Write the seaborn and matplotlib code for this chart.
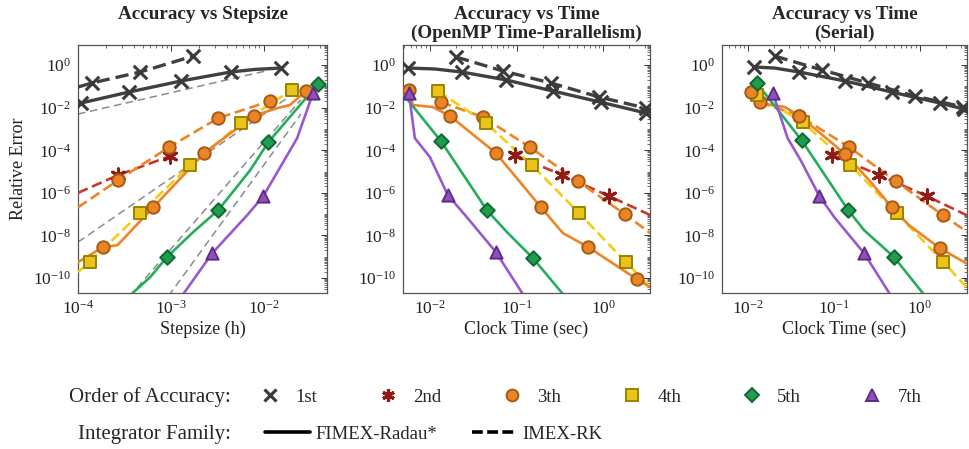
import numpy as np
import pandas as pd
import seaborn as sns
import matplotlib
matplotlib.use("Agg")
import matplotlib.pyplot as plt
from matplotlib.lines import Line2D
from matplotlib.ticker import LogLocator, FixedLocator, NullFormatter

sns.set_theme(style="white")
plt.rcParams["font.family"] = ["Liberation Serif", "DejaVu Serif"]
plt.rcParams["mathtext.fontset"] = "stix"

# ---------------- text ----------------
titles = ["Accuracy vs Stepsize",
          "Accuracy vs Time\n(OpenMP Time-Parallelism)",
          "Accuracy vs Time\n(Serial)"]
xlabels = ["Stepsize (h)", "Clock Time (sec)", "Clock Time (sec)"]
ylabel = "Relative Error"
order_labels = ["1st", "2nd", "3th", "4th", "5th", "7th"]
family_labels = ["FIMEX-Radau*", "IMEX-RK"]
legend_row_labels = ["Order of Accuracy:", "Integrator Family:"]

# ---------------- panel 1 : error vs stepsize ----------------
step_o1_imex_x = [1.0e-4, 1.41e-4, 4.65e-4, 1.74e-3]
step_o1_imex_y = [0.093, 0.143, 0.468, 2.63]
step_o1_imex_m = [1, 2, 3]
step_o1_fimex_x = [1.08e-4, 3.54e-4, 1.28e-3, 4.4e-3, 8.0e-3, 0.0152]
step_o1_fimex_y = [0.0165, 0.054, 0.177, 0.47, 0.62, 0.72]
step_o1_fimex_m = [0, 1, 2, 3, 5]
step_o2_imex_x = [1.0e-4, 2.72e-4, 9.9e-4]
step_o2_imex_y = [1.0e-6, 6.9e-6, 5.4e-5]
step_o2_imex_m = [1, 2]
step_o3_fimex_x = [1.0e-4, 1.88e-4, 2.66e-4, 6.46e-4, 2.29e-3, 7.76e-3, 0.0140, 0.0191, 0.0286]
step_o3_fimex_y = [5.6e-10, 2.9e-9, 3.5e-9, 2.1e-7, 7.4e-5, 4.1e-3, 9.5e-3, 0.0132, 0.060]
step_o3_fimex_m = [1, 3, 4, 5, 8]
step_o3_imex_x = [1.0e-4, 2.72e-4, 9.6e-4, 3.24e-3, 0.0117]
step_o3_imex_y = [2.1e-7, 4.0e-6, 1.41e-4, 3.24e-3, 0.0204]
step_o3_imex_m = [1, 2, 3, 4]
step_o4_imex_x = [1.0e-4, 1.33e-4, 4.68e-4, 1.62e-3, 5.75e-3, 0.020]
step_o4_imex_y = [1.9e-10, 5.6e-10, 1.12e-7, 2.04e-5, 1.9e-3, 0.0676]
step_o4_imex_m = [1, 2, 3, 4, 5]
step_o5_fimex_x = [3.16e-4, 6.0e-4, 9.1e-4, 1.74e-3, 3.24e-3, 7.16e-3, 0.0112, 0.0385]
step_o5_fimex_y = [8.9e-12, 1.12e-10, 9.8e-10, 1.45e-8, 1.55e-7, 1.17e-5, 2.4e-4, 0.129]
step_o5_fimex_m = [2, 4, 6, 7]
step_o7_fimex_x = [1.12e-3, 1.36e-3, 2.79e-3, 6.65e-3, 9.9e-3, 0.0229, 0.034]
step_o7_fimex_y = [5.6e-12, 1.78e-11, 1.48e-9, 9.1e-8, 7.1e-7, 3.7e-4, 0.049]
step_o7_fimex_m = [2, 4, 6]
# reference slopes (gray dashed guides)
step_ref1_x = [1.0e-4, 0.011]
step_ref1_y = [5.0e-3, 0.55]
step_ref3_x = [1.0e-4, 0.0226]
step_ref3_y = [4.9e-9, 0.0566]
step_ref5_x = [3.55e-4, 0.0251]
step_ref5_y = [1.3e-11, 0.0234]
step_ref6_x = [7.9e-4, 0.0251]
step_ref6_y = [5.0e-12, 5.0e-3]

# ---------------- panel 2 : OpenMP time ----------------
omp_o1_fimex_x = [5.57e-3, 0.0115, 0.0234, 0.0753, 0.263, 0.933, 3.09]
omp_o1_fimex_y = [0.724, 0.65, 0.468, 0.20, 0.060, 0.018, 5.6e-3]
omp_o1_fimex_m = [0, 2, 3, 4, 5, 6]
omp_o1_imex_x = [0.020, 0.0695, 0.249, 0.891, 3.09]
omp_o1_imex_y = [2.38, 0.525, 0.143, 0.0316, 9.5e-3]
omp_o1_imex_m = [0, 1, 2, 3, 4]
omp_o2_imex_x = [0.0955, 0.333, 1.16, 3.47]
omp_o2_imex_y = [5.9e-5, 6.9e-6, 7.1e-7, 9.1e-8]
omp_o2_imex_m = [0, 1, 2]
omp_o3_fimex_x = [5.73e-3, 6.37e-3, 0.0108, 0.0170, 0.0577, 0.191, 0.342, 0.664, 2.44, 3.47]
omp_o3_fimex_y = [0.0676, 0.0132, 0.0107, 4.1e-3, 7.4e-5, 2.1e-7, 1.29e-8, 2.9e-9, 8.9e-11, 3.8e-11]
omp_o3_fimex_m = [0, 3, 4, 5, 7, 8]
omp_o3_imex_x = [0.0134, 0.0408, 0.142, 0.509, 1.77, 3.47]
omp_o3_imex_y = [0.0182, 3.6e-3, 1.41e-4, 3.5e-6, 1.0e-7, 1.29e-8]
omp_o3_imex_m = [0, 1, 2, 3, 4]
omp_o4_imex_x = [0.0124, 0.0443, 0.150, 0.524, 1.82, 3.47]
omp_o4_imex_y = [0.060, 1.9e-3, 2.04e-5, 1.12e-7, 5.6e-10, 3.8e-11]
omp_o4_imex_m = [0, 1, 2, 3, 4]
omp_o5_fimex_x = [4.9e-3, 0.0134, 0.0454, 0.0773, 0.154, 0.342, 0.40]
omp_o5_fimex_y = [0.0437, 2.7e-4, 1.55e-7, 1.45e-8, 8.7e-10, 1.78e-11, 7.9e-12]
omp_o5_fimex_m = [1, 2, 4]
omp_o7_fimex_x = [5.73e-3, 6.71e-3, 0.010, 0.0161, 0.0267, 0.0577, 0.118, 0.14]
omp_o7_fimex_y = [0.049, 3.7e-4, 4.8e-5, 7.9e-7, 7.2e-8, 1.66e-9, 1.78e-11, 5.6e-12]
omp_o7_fimex_m = [0, 3, 5]

# ---------------- panel 3 : serial time ----------------
ser_o1_fimex_x = [0.01175, 0.0205, 0.0398, 0.136, 0.474, 1.70, 3.3]
ser_o1_fimex_y = [0.81, 0.72, 0.468, 0.178, 0.0537, 0.0166, 8.5e-3]
ser_o1_fimex_m = [0, 2, 3, 4, 5, 6]
ser_o1_imex_x = [0.0205, 0.0736, 0.251, 0.875, 3.23]
ser_o1_imex_y = [2.63, 0.582, 0.143, 0.035, 0.0107]
ser_o1_imex_m = [0, 1, 2, 3, 4]
ser_o2_imex_x = [0.0962, 0.336, 1.205, 3.49]
ser_o2_imex_y = [5.9e-5, 6.9e-6, 7.1e-7, 9.1e-8]
ser_o2_imex_m = [0, 1, 2]
ser_o3_fimex_x = [0.01084, 0.0158, 0.0269, 0.0398, 0.136, 0.257, 0.474, 0.746, 1.70, 3.59]
ser_o3_fimex_y = [0.0537, 0.0148, 0.0107, 4.1e-3, 6.6e-5, 4.0e-6, 2.1e-7, 3.1e-8, 2.6e-9, 4.6e-10]
ser_o3_fimex_m = [0, 3, 4, 6, 8]
ser_o3_imex_x = [0.0138, 0.0398, 0.151, 0.528, 1.85, 3.59]
ser_o3_imex_y = [0.0182, 4.1e-3, 1.41e-4, 3.5e-6, 9.1e-8, 1.45e-8]
ser_o3_imex_m = [0, 1, 2, 3, 4]
ser_o4_imex_x = [0.0127, 0.0433, 0.155, 0.542, 1.89, 3.49]
ser_o4_imex_y = [0.039, 2.1e-3, 2.04e-5, 1.12e-7, 5.6e-10, 3.8e-11]
ser_o4_imex_m = [0, 1, 2, 3, 4]
ser_o5_fimex_x = [0.0127, 0.0421, 0.147, 0.225, 0.501, 1.11, 1.3]
ser_o5_fimex_y = [0.143, 3.0e-4, 1.55e-7, 1.78e-8, 9.8e-10, 1.78e-11, 6e-12]
ser_o5_fimex_m = [0, 1, 2, 4]
ser_o7_fimex_x = [0.0195, 0.029, 0.041, 0.0679, 0.1014, 0.225, 0.45, 0.53]
ser_o7_fimex_y = [0.049, 3.7e-4, 3.5e-5, 7.1e-7, 7.2e-8, 1.48e-9, 1.78e-11, 5e-12]
ser_o7_fimex_m = [0, 3, 5]

# ---------------- styles ----------------
STYLE = {
    "1st": dict(line="#404040", face="#3a3a3a", edge="#303030", marker="x", s=95, lw=2.4),
    "2nd": dict(line="#c9372c", face="#8e1b16", edge="#8e1b16", marker=(6, 2, 0), s=90, lw=1.9),
    "3th": dict(line="#ef8427", face="#ea8425", edge="#a65a14", marker="o", s=80, lw=1.9),
    "4th": dict(line="#f4cc12", face="#eac41a", edge="#9a8200", marker="s", s=68, lw=1.9),
    "5th": dict(line="#25ad5f", face="#1f9c4f", edge="#0f6a30", marker="D", s=55, lw=1.9),
    "7th": dict(line="#9a58cf", face="#9150c0", edge="#5e2d85", marker="^", s=78, lw=1.9),
}
DASH = (0, (4.0, 1.8))
LS = {"FIMEX-Radau*": "-", "IMEX-RK": DASH}


def draw(ax, x, y, marks, order, family):
    st = STYLE[order]
    df = pd.DataFrame({"x": x, "y": y})
    sns.lineplot(data=df, x="x", y="y", ax=ax, color=st["line"], lw=st["lw"],
                 linestyle=LS[family], sort=False, estimator=None, legend=False,
                 zorder=3)
    dm = df.iloc[marks]
    if order in ("1st", "2nd"):
        sns.scatterplot(data=dm, x="x", y="y", ax=ax, marker=st["marker"], s=st["s"],
                        color=st["face"], linewidth=2.2, legend=False, zorder=5)
    else:
        sns.scatterplot(data=dm, x="x", y="y", ax=ax, marker=st["marker"], s=st["s"],
                        color=st["face"], edgecolor=st["edge"], linewidth=1.4,
                        legend=False, zorder=5)


def ref(ax, x, y):
    df = pd.DataFrame({"x": x, "y": y})
    sns.lineplot(data=df, x="x", y="y", ax=ax, color="#8c8c8c", lw=1.1,
                 linestyle=(0, (5, 3)), sort=False, estimator=None, legend=False,
                 zorder=2)


W, H = 969, 449
fig = plt.figure(figsize=(W / 100, H / 100), dpi=100)


def rect(l, t, r, b):
    return [l / W, 1 - b / H, (r - l) / W, (b - t) / H]


axes = [fig.add_axes(rect(78, 45, 327, 293)),
        fig.add_axes(rect(403, 45, 650, 293)),
        fig.add_axes(rect(722, 45, 967, 293))]

for ax in axes:
    ax.set_xscale("log")
    ax.set_yscale("log")

# panel 1
a = axes[0]
ref(a, step_ref1_x, step_ref1_y)
ref(a, step_ref3_x, step_ref3_y)
ref(a, step_ref5_x, step_ref5_y)
ref(a, step_ref6_x, step_ref6_y)
draw(a, step_o1_imex_x, step_o1_imex_y, step_o1_imex_m, "1st", "IMEX-RK")
draw(a, step_o1_fimex_x, step_o1_fimex_y, step_o1_fimex_m, "1st", "FIMEX-Radau*")
draw(a, step_o2_imex_x, step_o2_imex_y, step_o2_imex_m, "2nd", "IMEX-RK")
draw(a, step_o3_imex_x, step_o3_imex_y, step_o3_imex_m, "3th", "IMEX-RK")
draw(a, step_o4_imex_x, step_o4_imex_y, step_o4_imex_m, "4th", "IMEX-RK")
draw(a, step_o3_fimex_x, step_o3_fimex_y, step_o3_fimex_m, "3th", "FIMEX-Radau*")
draw(a, step_o5_fimex_x, step_o5_fimex_y, step_o5_fimex_m, "5th", "FIMEX-Radau*")
draw(a, step_o7_fimex_x, step_o7_fimex_y, step_o7_fimex_m, "7th", "FIMEX-Radau*")

# panel 2
a = axes[1]
draw(a, omp_o1_imex_x, omp_o1_imex_y, omp_o1_imex_m, "1st", "IMEX-RK")
draw(a, omp_o1_fimex_x, omp_o1_fimex_y, omp_o1_fimex_m, "1st", "FIMEX-Radau*")
draw(a, omp_o2_imex_x, omp_o2_imex_y, omp_o2_imex_m, "2nd", "IMEX-RK")
draw(a, omp_o3_imex_x, omp_o3_imex_y, omp_o3_imex_m, "3th", "IMEX-RK")
draw(a, omp_o4_imex_x, omp_o4_imex_y, omp_o4_imex_m, "4th", "IMEX-RK")
draw(a, omp_o3_fimex_x, omp_o3_fimex_y, omp_o3_fimex_m, "3th", "FIMEX-Radau*")
draw(a, omp_o5_fimex_x, omp_o5_fimex_y, omp_o5_fimex_m, "5th", "FIMEX-Radau*")
draw(a, omp_o7_fimex_x, omp_o7_fimex_y, omp_o7_fimex_m, "7th", "FIMEX-Radau*")

# panel 3
a = axes[2]
draw(a, ser_o1_imex_x, ser_o1_imex_y, ser_o1_imex_m, "1st", "IMEX-RK")
draw(a, ser_o1_fimex_x, ser_o1_fimex_y, ser_o1_fimex_m, "1st", "FIMEX-Radau*")
draw(a, ser_o2_imex_x, ser_o2_imex_y, ser_o2_imex_m, "2nd", "IMEX-RK")
draw(a, ser_o3_imex_x, ser_o3_imex_y, ser_o3_imex_m, "3th", "IMEX-RK")
draw(a, ser_o4_imex_x, ser_o4_imex_y, ser_o4_imex_m, "4th", "IMEX-RK")
draw(a, ser_o3_fimex_x, ser_o3_fimex_y, ser_o3_fimex_m, "3th", "FIMEX-Radau*")
draw(a, ser_o5_fimex_x, ser_o5_fimex_y, ser_o5_fimex_m, "5th", "FIMEX-Radau*")
draw(a, ser_o7_fimex_x, ser_o7_fimex_y, ser_o7_fimex_m, "7th", "FIMEX-Radau*")

xlims = [(1.0e-4, 0.048), (4.9e-3, 3.45), (5.0e-3, 3.55)]
xmajor = [[1e-4, 1e-3, 1e-2], [1e-2, 1e-1, 1e0], [1e-2, 1e-1, 1e0]]
ymajor = [1e0, 1e-2, 1e-4, 1e-6, 1e-8, 1e-10]
title_pads = [19, 5, 5]

for i, ax in enumerate(axes):
    ax.set_xlim(*xlims[i])
    ax.set_ylim(2.0e-11, 8.7)
    ax.xaxis.set_major_locator(FixedLocator(xmajor[i]))
    ax.yaxis.set_major_locator(FixedLocator(ymajor))
    ax.xaxis.set_minor_locator(LogLocator(base=10, subs=np.arange(1, 10), numticks=60))
    ax.yaxis.set_minor_locator(LogLocator(base=10, subs=np.arange(1, 10), numticks=60))
    ax.xaxis.set_minor_formatter(NullFormatter())
    ax.yaxis.set_minor_formatter(NullFormatter())
    ax.tick_params(which="both", direction="in", top=True, right=True,
                   colors="#333333", labelcolor="#222222", labelsize=12.5)
    ax.tick_params(which="major", length=4, width=0.7, pad=5)
    ax.tick_params(which="minor", length=2, width=0.5)
    for sp in ax.spines.values():
        sp.set_color("#555555")
        sp.set_linewidth(0.9)
    ax.set_xlabel(xlabels[i], fontsize=13, labelpad=2, color="#222222")
    ax.set_ylabel("")
    ax.set_title(titles[i], fontsize=13.8, fontweight="bold", pad=title_pads[i],
                 linespacing=1.1)
    ax.grid(False)

axes[0].set_ylabel(ylabel, fontsize=13, labelpad=4, color="#222222")

# ---------------- bottom legend ----------------
fig.text(231 / W, 1 - 397 / H, legend_row_labels[0], ha="right", va="center", fontsize=15)
fig.text(231 / W, 1 - 434 / H, legend_row_labels[1], ha="right", va="center", fontsize=15)

order_handles = []
for lab in order_labels:
    st = STYLE[lab]
    if lab in ("1st", "2nd"):
        h = Line2D([], [], ls="none", marker=st["marker"], markersize=9,
                   color=st["face"], mew=2.3)
    else:
        h = Line2D([], [], ls="none", marker=st["marker"],
                   markersize=8.5 if lab != "5th" else 7.5,
                   mfc=st["face"], mec=st["edge"], mew=1.4)
    order_handles.append(h)

fig.legend(order_handles, order_labels, loc="center left",
           bbox_to_anchor=(260.6 / W, 1 - 397 / H), ncol=6, frameon=False,
           fontsize=13.5, handlelength=1.0, handletextpad=0.83, columnspacing=3.3,
           borderpad=0, borderaxespad=0)

family_handles = [Line2D([], [], color="black", lw=2.6, ls="-"),
                  Line2D([], [], color="black", lw=2.6, ls=(0, (3.0, 1.2)))]
fig.legend(family_handles, family_labels, loc="center left",
           bbox_to_anchor=(265 / W, 1 - 434 / H), ncol=2, frameon=False,
           fontsize=13.5, handlelength=2.4, handletextpad=0.27, columnspacing=1.9,
           borderpad=0, borderaxespad=0)

fig.savefig("out.png", dpi=100)
